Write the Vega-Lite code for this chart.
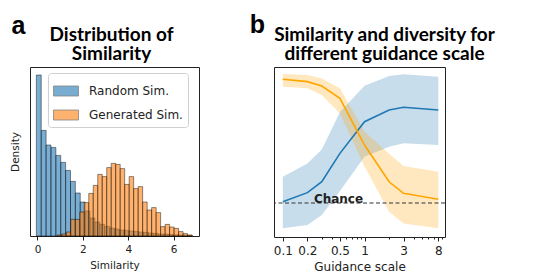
{
  "$schema": "https://vega.github.io/schema/vega-lite/v6.json",
  "padding": {"left": 9, "top": 13, "right": 0, "bottom": 0},
  "background": "white",
  "spacing": 49,
  "config": {
    "view": {"stroke": "#222", "strokeWidth": 1},
    "font": "DejaVu Sans",
    "axis": {"domain": false, "grid": false, "tickColor": "#222", "labelColor": "#222", "titleColor": "#222", "titleFontWeight": "normal", "labelFont": "DejaVu Sans", "titleFont": "DejaVu Sans"},
    "legend": {"fillColor": "white", "strokeColor": "#d0d0d0", "cornerRadius": 3, "labelColor": "#222", "labelFont": "DejaVu Sans"}
  },
  "hconcat": [
    {
      "title": {"text": "a", "anchor": "start", "font": "Liberation Sans", "fontSize": 25, "fontWeight": "bold", "color": "black", "offset": -34, "dx": 2, "baseline": "alphabetic"},
      "vconcat": [
        {
          "width": 169,
          "height": 169,
          "title": {"text": ["Distribution of", "Similarity"], "font": "Lato", "fontSize": 19, "fontWeight": "bold", "lineHeight": 19.5, "color": "black", "anchor": "middle", "offset": 3, "dx": -3},
          "data": {"values": [
            {"series": "Random Sim.", "start": -0.05, "end": 0.165, "density": 0.805},
            {"series": "Random Sim.", "start": 0.165, "end": 0.38, "density": 0.528},
            {"series": "Random Sim.", "start": 0.38, "end": 0.595, "density": 0.455},
            {"series": "Random Sim.", "start": 0.595, "end": 0.81, "density": 0.443},
            {"series": "Random Sim.", "start": 0.81, "end": 1.025, "density": 0.403},
            {"series": "Random Sim.", "start": 1.025, "end": 1.24, "density": 0.368},
            {"series": "Random Sim.", "start": 1.24, "end": 1.455, "density": 0.328},
            {"series": "Random Sim.", "start": 1.455, "end": 1.67, "density": 0.273},
            {"series": "Random Sim.", "start": 1.67, "end": 1.885, "density": 0.215},
            {"series": "Random Sim.", "start": 1.885, "end": 2.1, "density": 0.170},
            {"series": "Random Sim.", "start": 2.1, "end": 2.315, "density": 0.125},
            {"series": "Random Sim.", "start": 2.315, "end": 2.53, "density": 0.090},
            {"series": "Random Sim.", "start": 2.53, "end": 2.745, "density": 0.070},
            {"series": "Random Sim.", "start": 2.745, "end": 2.96, "density": 0.058},
            {"series": "Random Sim.", "start": 2.96, "end": 3.175, "density": 0.048},
            {"series": "Random Sim.", "start": 3.175, "end": 3.39, "density": 0.040},
            {"series": "Random Sim.", "start": 3.39, "end": 3.605, "density": 0.035},
            {"series": "Random Sim.", "start": 3.605, "end": 3.82, "density": 0.030},
            {"series": "Random Sim.", "start": 3.82, "end": 4.035, "density": 0.028},
            {"series": "Random Sim.", "start": 4.035, "end": 4.25, "density": 0.025},
            {"series": "Random Sim.", "start": 4.25, "end": 4.465, "density": 0.023},
            {"series": "Random Sim.", "start": 4.465, "end": 4.68, "density": 0.020},
            {"series": "Random Sim.", "start": 4.68, "end": 4.895, "density": 0.018},
            {"series": "Random Sim.", "start": 4.895, "end": 5.11, "density": 0.015},
            {"series": "Random Sim.", "start": 5.11, "end": 5.325, "density": 0.013},
            {"series": "Random Sim.", "start": 5.325, "end": 5.54, "density": 0.010},
            {"series": "Random Sim.", "start": 5.54, "end": 5.755, "density": 0.010},
            {"series": "Random Sim.", "start": 5.755, "end": 5.97, "density": 0.008},
            {"series": "Random Sim.", "start": 5.97, "end": 6.185, "density": 0.006},
            {"series": "Random Sim.", "start": 6.185, "end": 6.4, "density": 0.005},
            {"series": "Random Sim.", "start": 6.4, "end": 6.615, "density": 0.004},
            {"series": "Random Sim.", "start": 6.615, "end": 6.83, "density": 0.003},
            {"series": "Generated Sim.", "start": 0.874, "end": 1.072, "density": 0.005},
            {"series": "Generated Sim.", "start": 1.072, "end": 1.27, "density": 0.010},
            {"series": "Generated Sim.", "start": 1.27, "end": 1.468, "density": 0.020},
            {"series": "Generated Sim.", "start": 1.468, "end": 1.666, "density": 0.083},
            {"series": "Generated Sim.", "start": 1.666, "end": 1.864, "density": 0.083},
            {"series": "Generated Sim.", "start": 1.864, "end": 2.062, "density": 0.120},
            {"series": "Generated Sim.", "start": 2.062, "end": 2.26, "density": 0.167},
            {"series": "Generated Sim.", "start": 2.26, "end": 2.458, "density": 0.213},
            {"series": "Generated Sim.", "start": 2.458, "end": 2.656, "density": 0.253},
            {"series": "Generated Sim.", "start": 2.656, "end": 2.854, "density": 0.308},
            {"series": "Generated Sim.", "start": 2.854, "end": 3.052, "density": 0.297},
            {"series": "Generated Sim.", "start": 3.052, "end": 3.25, "density": 0.342},
            {"series": "Generated Sim.", "start": 3.25, "end": 3.448, "density": 0.363},
            {"series": "Generated Sim.", "start": 3.448, "end": 3.646, "density": 0.358},
            {"series": "Generated Sim.", "start": 3.646, "end": 3.844, "density": 0.337},
            {"series": "Generated Sim.", "start": 3.844, "end": 4.042, "density": 0.258},
            {"series": "Generated Sim.", "start": 4.042, "end": 4.24, "density": 0.297},
            {"series": "Generated Sim.", "start": 4.24, "end": 4.438, "density": 0.237},
            {"series": "Generated Sim.", "start": 4.438, "end": 4.636, "density": 0.247},
            {"series": "Generated Sim.", "start": 4.636, "end": 4.834, "density": 0.170},
            {"series": "Generated Sim.", "start": 4.834, "end": 5.032, "density": 0.130},
            {"series": "Generated Sim.", "start": 5.032, "end": 5.23, "density": 0.142},
            {"series": "Generated Sim.", "start": 5.23, "end": 5.428, "density": 0.117},
            {"series": "Generated Sim.", "start": 5.428, "end": 5.626, "density": 0.047},
            {"series": "Generated Sim.", "start": 5.626, "end": 5.824, "density": 0.058},
            {"series": "Generated Sim.", "start": 5.824, "end": 6.022, "density": 0.045},
            {"series": "Generated Sim.", "start": 6.022, "end": 6.22, "density": 0.038},
            {"series": "Generated Sim.", "start": 6.22, "end": 6.418, "density": 0.022},
            {"series": "Generated Sim.", "start": 6.418, "end": 6.616, "density": 0.012},
            {"series": "Generated Sim.", "start": 6.616, "end": 6.814, "density": 0.005}
          ]},
          "mark": {"type": "rect", "fillOpacity": 0.6, "stroke": "black", "strokeOpacity": 0.55, "strokeWidth": 0.8},
          "encoding": {
            "x": {"field": "start", "type": "quantitative", "scale": {"domain": [-0.33, 7.12], "nice": false, "zero": false},
                  "axis": {"values": [0, 2, 4, 6], "title": "Similarity", "labelFontSize": 10.5, "titleFontSize": 10.5, "tickSize": 4, "labelPadding": 4, "titlePadding": 6}},
            "x2": {"field": "end"},
            "y": {"field": "density", "type": "quantitative", "scale": {"domain": [0, 0.845], "nice": false},
                  "axis": {"labels": false, "ticks": false, "title": "Density", "titleFontSize": 10.5, "titlePadding": 10}},
            "y2": {"datum": 0},
            "color": {"field": "series", "type": "nominal", "sort": null,
                      "scale": {"domain": ["Random Sim.", "Generated Sim."], "range": ["#1f77b4", "#ff7f0e"]},
                      "legend": {"title": null, "orient": "none", "legendX": 18, "legendY": 6, "labelFontSize": 12, "symbolType": "M-1,-0.4H1V0.4H-1Z", "symbolSize": 625, "symbolOpacity": 0.6, "symbolStrokeColor": "#333", "symbolStrokeWidth": 0.8, "labelOffset": 10, "padding": 5, "rowPadding": 4}}
          }
        }
      ]
    },
    {
      "title": {"text": "b", "anchor": "start", "font": "Liberation Sans", "fontSize": 25, "fontWeight": "bold", "color": "black", "offset": -33, "dx": -23, "baseline": "alphabetic"},
      "vconcat": [
        {
          "width": 171,
          "height": 170,
          "title": {"text": ["Similarity and diversity for", "different guidance scale"], "font": "Lato", "fontSize": 19, "fontWeight": "bold", "lineHeight": 19.5, "color": "black", "anchor": "middle", "offset": 3, "dx": 25},
          "layer": [
            {
              "data": {"values": [
                {"series": "Similarity", "g": 0.1, "mean": 0.208, "lo": 0.051, "hi": 0.355},
                {"series": "Similarity", "g": 0.2, "mean": 0.261, "lo": 0.071, "hi": 0.433},
                {"series": "Similarity", "g": 0.3, "mean": 0.325, "lo": 0.129, "hi": 0.514},
                {"series": "Similarity", "g": 0.5, "mean": 0.492, "lo": 0.27, "hi": 0.735},
                {"series": "Similarity", "g": 1, "mean": 0.678, "lo": 0.472, "hi": 0.89},
                {"series": "Similarity", "g": 2, "mean": 0.747, "lo": 0.531, "hi": 0.947},
                {"series": "Similarity", "g": 3, "mean": 0.763, "lo": 0.551, "hi": 0.957},
                {"series": "Similarity", "g": 8, "mean": 0.747, "lo": 0.541, "hi": 0.942},
                {"series": "Diversity", "g": 0.1, "mean": 0.928, "lo": 0.884, "hi": 0.959},
                {"series": "Diversity", "g": 0.2, "mean": 0.914, "lo": 0.875, "hi": 0.953},
                {"series": "Diversity", "g": 0.3, "mean": 0.888, "lo": 0.835, "hi": 0.933},
                {"series": "Diversity", "g": 0.5, "mean": 0.816, "lo": 0.727, "hi": 0.875},
                {"series": "Diversity", "g": 1, "mean": 0.541, "lo": 0.414, "hi": 0.62},
                {"series": "Diversity", "g": 2, "mean": 0.325, "lo": 0.149, "hi": 0.49},
                {"series": "Diversity", "g": 3, "mean": 0.257, "lo": 0.08, "hi": 0.418},
                {"series": "Diversity", "g": 8, "mean": 0.222, "lo": 0.051, "hi": 0.384}
              ]},
              "layer": [
                {
                  "mark": {"type": "area", "fillOpacity": 0.25},
                  "encoding": {
                    "x": {"field": "g", "type": "quantitative", "scale": {"type": "log", "domain": [0.078, 9.66], "nice": false},
                          "axis": {"title": "Guidance scale", "values": [0.1, 0.2, 0.3, 0.4, 0.5, 0.6, 0.7, 0.8, 0.9, 1, 2, 3, 4, 5, 6, 7, 8, 9],
                                   "labelExpr": "indexof([0.1, 0.2, 0.5, 1, 3, 8], datum.value) >= 0 ? format(datum.value, '~g') : ''",
                                   "tickSize": {"condition": {"test": "indexof([0.1, 0.2, 0.5, 1, 3, 8], datum.value) >= 0", "value": 4}, "value": 2},
                                   "labelOverlap": false, "labelFlush": false, "labelFontSize": 12, "titleFontSize": 12, "labelPadding": 4, "titlePadding": 5}},
                    "y": {"field": "lo", "type": "quantitative", "scale": {"domain": [0, 1], "nice": false}, "axis": null},
                    "y2": {"field": "hi"},
                    "fill": {"field": "series", "type": "nominal", "scale": {"domain": ["Similarity", "Diversity"], "range": ["#1f77b4", "#FFA500"]}, "legend": null}
                  }
                },
                {
                  "mark": {"type": "line", "strokeWidth": 1.6},
                  "encoding": {
                    "x": {"field": "g", "type": "quantitative", "title": "Guidance scale"},
                    "y": {"field": "mean", "type": "quantitative", "axis": null},
                    "stroke": {"field": "series", "type": "nominal", "scale": {"domain": ["Similarity", "Diversity"], "range": ["#1f77b4", "#FFA500"]},
                               "legend": {"title": null, "orient": "none", "legendX": 176, "legendY": 32, "labelFontSize": 11, "symbolType": "stroke", "symbolSize": 625, "symbolStrokeWidth": 1.6, "labelOffset": 10, "padding": 5, "rowPadding": 4}}
                  }
                }
              ]
            },
            {
              "data": {"values": [{"level": 0.2, "at": 0.24, "label": "Chance"}]},
              "layer": [
                {
                  "mark": {"type": "rule", "strokeDash": [4, 2.5], "color": "#333", "strokeWidth": 1.1},
                  "encoding": {"y": {"field": "level", "type": "quantitative", "axis": null}}
                },
                {
                  "mark": {"type": "text", "align": "left", "baseline": "alphabetic", "font": "DejaVu Sans", "fontWeight": "bold", "fontSize": 12, "color": "#222"},
                  "encoding": {
                    "x": {"field": "at", "type": "quantitative", "title": "Guidance scale"},
                    "y": {"field": "level", "type": "quantitative", "axis": null},
                    "text": {"field": "label"}
                  }
                }
              ]
            }
          ]
        }
      ]
    }
  ]
}
